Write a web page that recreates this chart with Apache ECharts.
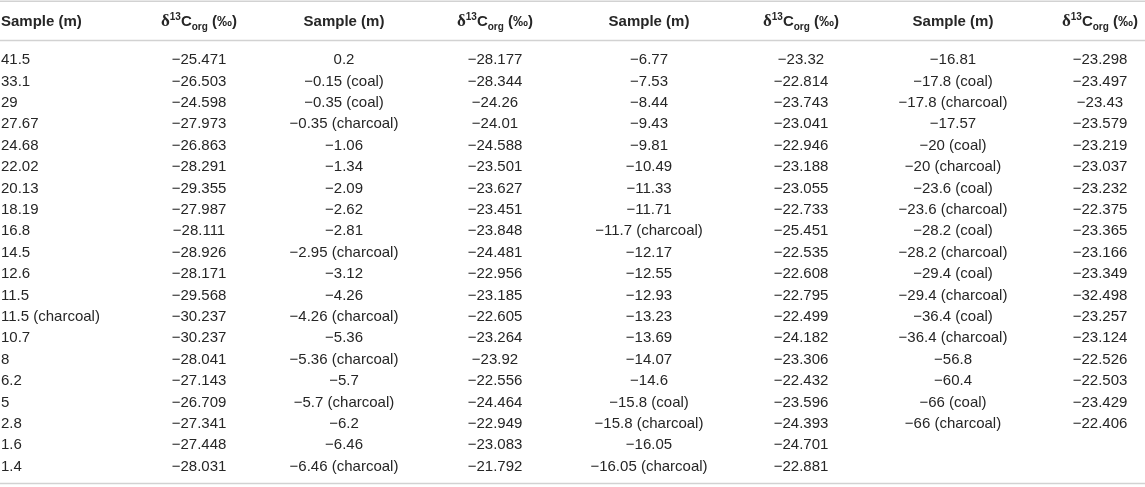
<!DOCTYPE html>
<html>
<head>
<meta charset="utf-8">
<script src="https://cdn.jsdelivr.net/npm/echarts@6/dist/echarts.min.js"></script>
<style>
html,body{margin:0;padding:0;background:#ffffff;}
#chart{width:1145px;height:487px;}
</style>
</head>
<body>
<div id="chart"></div>
<script>
// ---- table content ----
const headers = ['Sample (m)', 'δ13Corg (‰)', 'Sample (m)', 'δ13Corg (‰)', 'Sample (m)', 'δ13Corg (‰)', 'Sample (m)', 'δ13Corg (‰)'];

const sampleA = ['41.5','33.1','29','27.67','24.68','22.02','20.13','18.19','16.8','14.5','12.6','11.5','11.5 (charcoal)','10.7','8','6.2','5','2.8','1.6','1.4'];
const deltaA  = ['−25.471','−26.503','−24.598','−27.973','−26.863','−28.291','−29.355','−27.987','−28.111','−28.926','−28.171','−29.568','−30.237','−30.237','−28.041','−27.143','−26.709','−27.341','−27.448','−28.031'];

const sampleB = ['0.2','−0.15 (coal)','−0.35 (coal)','−0.35 (charcoal)','−1.06','−1.34','−2.09','−2.62','−2.81','−2.95 (charcoal)','−3.12','−4.26','−4.26 (charcoal)','−5.36','−5.36 (charcoal)','−5.7','−5.7 (charcoal)','−6.2','−6.46','−6.46 (charcoal)'];
const deltaB  = ['−28.177','−28.344','−24.26','−24.01','−24.588','−23.501','−23.627','−23.451','−23.848','−24.481','−22.956','−23.185','−22.605','−23.264','−23.92','−22.556','−24.464','−22.949','−23.083','−21.792'];

const sampleC = ['−6.77','−7.53','−8.44','−9.43','−9.81','−10.49','−11.33','−11.71','−11.7 (charcoal)','−12.17','−12.55','−12.93','−13.23','−13.69','−14.07','−14.6','−15.8 (coal)','−15.8 (charcoal)','−16.05','−16.05 (charcoal)'];
const deltaC  = ['−23.32','−22.814','−23.743','−23.041','−22.946','−23.188','−23.055','−22.733','−25.451','−22.535','−22.608','−22.795','−22.499','−24.182','−23.306','−22.432','−23.596','−24.393','−24.701','−22.881'];

const sampleD = ['−16.81','−17.8 (coal)','−17.8 (charcoal)','−17.57','−20 (coal)','−20 (charcoal)','−23.6 (coal)','−23.6 (charcoal)','−28.2 (coal)','−28.2 (charcoal)','−29.4 (coal)','−29.4 (charcoal)','−36.4 (coal)','−36.4 (charcoal)','−56.8','−60.4','−66 (coal)','−66 (charcoal)'];
const deltaD  = ['−23.298','−23.497','−23.43','−23.579','−23.219','−23.037','−23.232','−22.375','−23.365','−23.166','−23.349','−32.498','−23.257','−23.124','−22.526','−22.503','−23.429','−22.406'];

const columns = [sampleA, deltaA, sampleB, deltaB, sampleC, deltaC, sampleD, deltaD];

// ---- layout (kept separate from data) ----
const W = 1145, H = 487;
const colAnchor = [1, 199, 344, 495, 649, 801, 953, 1100];
const colAlign  = ['left','center','center','center','center','center','center','center'];
const firstRowPx = 60, rowPx = 21.4;
const headerPx = 22;
const rulePx = [1.2, 40.5, 483.5];
const toRow = px => (px - firstRowPx) / rowPx;

const FONT = '"Liberation Sans", Arial, Helvetica, sans-serif';
const TEXT_COLOR = '#262626';

// build cell items: [xAnchor, rowValue, colIndex, rowIndex, isHeader]
const cellItems = [];
const cellTexts = [];
headers.forEach((h, c) => {
  cellItems.push([colAnchor[c], toRow(headerPx), c, -1, 1]);
  cellTexts.push(h);
});
columns.forEach((col, c) => {
  col.forEach((t, r) => {
    cellItems.push([colAnchor[c], r, c, r, 0]);
    cellTexts.push(t);
  });
});

const headerRich = {
  h:   { fontFamily: FONT, fontWeight: 'bold', fontSize: 15, lineHeight: 20, fill: TEXT_COLOR, verticalAlign: 'middle' },
  d:   { fontFamily: '"Liberation Serif", "DejaVu Serif", serif', fontWeight: 'bold', fontSize: 17, lineHeight: 20, fill: TEXT_COLOR, verticalAlign: 'middle' },
  sup: { fontFamily: FONT, fontWeight: 'bold', fontSize: 10, lineHeight: 11, fill: TEXT_COLOR, verticalAlign: 'top' },
  sub: { fontFamily: FONT, fontWeight: 'bold', fontSize: 10, lineHeight: 10, fill: TEXT_COLOR, verticalAlign: 'bottom' }
};
function headerText(h) {
  const m = h.match(/^δ(\d+)C(org)(.*)$/);
  if (m) return '{d|δ}{sup|' + m[1] + '}{h|C}{sub|' + m[2] + '}{h|' + m[3] + '}';
  return '{h|' + h + '}';
}

const chart = echarts.init(document.getElementById('chart'), null, { renderer: 'canvas' });
chart.setOption({
  animation: false,
  backgroundColor: '#ffffff',
  grid: { left: 0, right: 0, top: 0, bottom: 0, containLabel: false },
  xAxis: { type: 'value', min: 0, max: W, show: false },
  yAxis: { type: 'value', inverse: true, min: toRow(0), max: toRow(H), show: false },
  series: [
    {
      type: 'custom',
      name: 'rules',
      silent: true,
      data: rulePx.map(p => [0, toRow(p)]),
      renderItem: function (params, api) {
        const y = api.coord([0, api.value(1)])[1];
        const cs = params.coordSys;
        return {
          type: 'line',
          shape: { x1: cs.x, y1: y, x2: cs.x + cs.width, y2: y },
          style: { stroke: '#d2d2d2', lineWidth: 1.6 }
        };
      }
    },
    {
      type: 'custom',
      name: 'cells',
      silent: true,
      data: cellItems,
      renderItem: function (params, api) {
        const p = api.coord([api.value(0), api.value(1)]);
        const c = api.value(2);
        const isHeader = api.value(4) === 1;
        const txt = cellTexts[params.dataIndex];
        if (isHeader) {
          return {
            type: 'text',
            x: p[0], y: p[1],
            style: {
              text: headerText(txt),
              rich: headerRich,
              align: colAlign[c],
              verticalAlign: 'middle',
              fill: TEXT_COLOR
            }
          };
        }
        return {
          type: 'text',
          x: p[0], y: p[1],
          style: {
            text: txt,
            font: '15px ' + FONT,
            fill: TEXT_COLOR,
            align: colAlign[c],
            verticalAlign: 'middle'
          }
        };
      }
    }
  ]
});
</script>
</body>
</html>
